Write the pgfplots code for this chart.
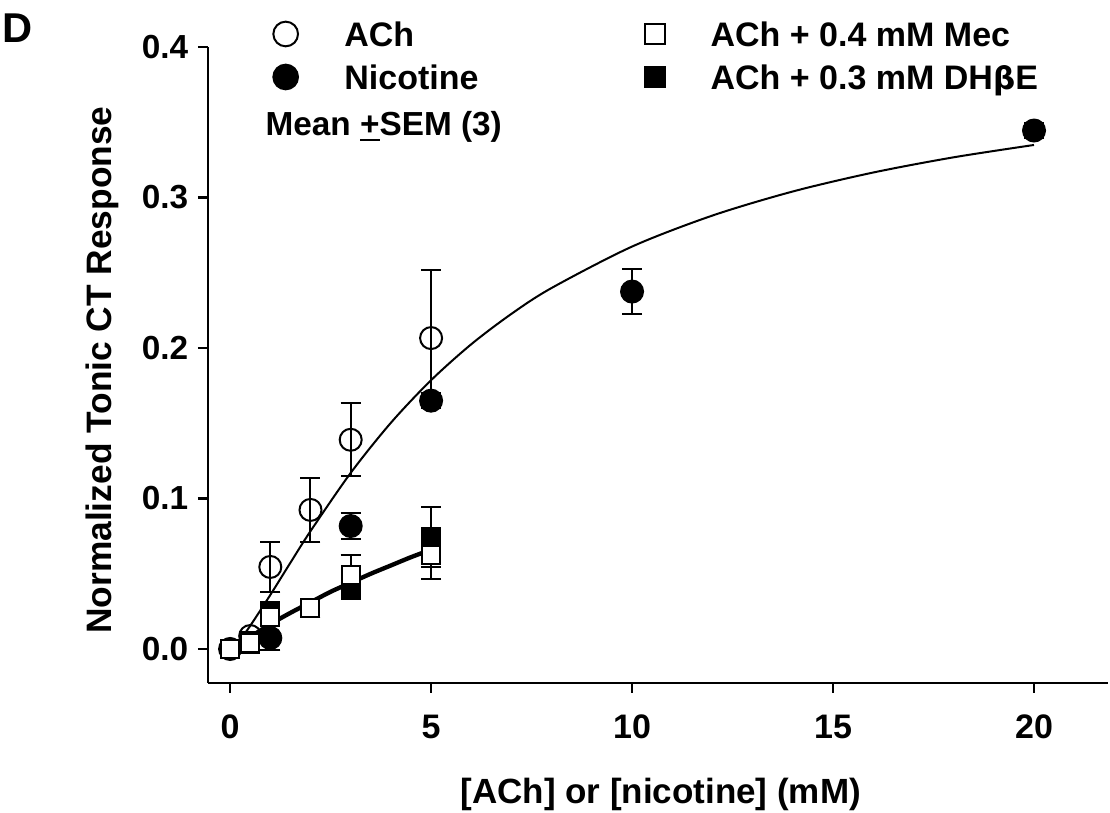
\documentclass[border=0pt]{standalone}
\usepackage{fontspec}
\setmainfont{Liberation Sans}
\usepackage{pgfplots}
\pgfplotsset{compat=1.18}
\usepackage{pgfplotstable}

\pgfplotsset{
  legA/.style={legend image code/.code={\path (-3.75pt,0pt) (17.4pt,0pt); \draw[##1] plot coordinates {(0pt,0pt)};}},
  legB/.style={legend image code/.code={\path (-3.75pt,0pt) (16.5pt,0pt); \draw[##1] plot coordinates {(0pt,0pt)};}},
}

\pgfplotstableread{
x y e
0 0 0.002
0.5 0.0086 0.003
1 0.0545 0.0165
2 0.0924 0.0215
3 0.139 0.0243
5 0.2066 0.0455
}\ach
\pgfplotstableread{
x y e
1 0.0073 0.008
3 0.0817 0.0085
5 0.165 0.005
10 0.2375 0.015
20 0.3445 0.005
}\nic
\pgfplotstableread{
x y e
0 0 0.002
0.5 0.004 0.002
1 0.0215 0.004
2 0.027 0.006
3 0.049 0.0135
5 0.0625 0.016
}\mec
\pgfplotstableread{
x y e
0 0 0.002
0.5 0.003 0.002
1 0.025 0.005
2 0.027 0.006
3 0.039 0.005
5 0.0745 0.02
}\dhbe
\pgfplotstableread{
x y
0 0
0.25 0.0064
0.5 0.0154
1 0.0359
1.5 0.0573
2 0.0783
3 0.1170
4 0.1503
5 0.1786
6 0.2025
7 0.2227
8 0.2399
10 0.2674
12 0.2880
14 0.3040
16 0.3166
18 0.3267
20 0.3349
}\fitA
\pgfplotstableread{
x y
0 0
0.5 0.008
1 0.0165
1.5 0.024
2 0.031
2.5 0.038
3 0.044
3.5 0.050
4 0.0555
4.5 0.061
5 0.066
}\fitB

\begin{document}
\begin{tikzpicture}
\useasboundingbox (-62.4pt,-39pt) rectangle (270.6pt,204.9pt);
\begin{axis}[
  at={(0,0)}, anchor=south west,
  scale only axis, width=270pt, height=190.8pt,
  xmin=-0.55, xmax=21.84, ymin=-0.0226, ymax=0.4,
  axis x line=bottom, axis y line=left,
  axis line style={-, line width=0.75pt},
  tick align=outside, major tick length=3pt,
  tick style={line width=0.75pt, black},
  xtick={0,5,10,15,20}, ytick={0,0.1,0.2,0.3,0.4},
  minor tick num=0,
  /pgf/number format/assume math mode=true,
  xticklabel style={font=\fontsize{10.2}{12}\selectfont\bfseries, yshift=-3pt},
  yticklabel style={font=\fontsize{10}{12}\selectfont\bfseries, xshift=0.6pt, /pgf/number format/.cd, fixed, fixed zerofill, precision=1},
  xlabel={[ACh] or [nicotine] (mM)},
  ylabel={Normalized Tonic CT Response},
  xlabel style={font=\fontsize{10.5}{13}\selectfont\bfseries, at={(axis description cs:0.503,-0.1897)}, anchor=base},
  ylabel style={font=\fontsize{10.6}{12}\selectfont\bfseries, at={(axis description cs:-0.1178,0.492)}, anchor=center, rotate=0},
  clip=false,
  legend columns=2,
  legend style={at={(axis description cs:0.0717,1.0477)}, anchor=north west, draw=none, fill=none,
    inner sep=0pt, outer sep=0pt,
    font=\fontsize{10.2}{12}\selectfont\bfseries, row sep=2.5pt, column sep=0pt,
    nodes={inner xsep=0pt, inner ysep=0pt, text height=8.9pt, text depth=1.5pt},
    /tikz/column 2/.style={column sep=49pt}},
  legend cell align=left,
  error bars/y dir=both, error bars/y explicit,
  error bars/error bar style={line width=0.6pt, black},
  error bars/error mark options={rotate=90, mark size=3pt, line width=0.6pt, black},
]
\addlegendimage{legA, only marks, mark=o, mark size=3.7pt, mark options={fill=white, line width=0.6pt}}
\addlegendimage{legB, only marks, mark=square, mark size=3.1pt, mark options={fill=white, line width=0.6pt}}
\addlegendimage{legA, only marks, mark=*, mark size=3.7pt, mark options={fill=black, line width=0.6pt}}
\addlegendimage{legB, only marks, mark=square*, mark size=3.1pt, mark options={fill=black, line width=0.6pt}}
\legend{ACh, ACh + 0.4 mM Mec, Nicotine, ACh + 0.3 mM DH{\fontspec{DejaVu Sans}\fontsize{9.3}{12}\selectfont β}E}
\addplot[only marks, mark=o, mark size=3.3pt, mark options={fill=white, line width=0.6pt}, forget plot] table[x=x, y=y, y error=e]{\ach};
\addplot[only marks, mark=*, mark size=3.3pt, mark options={fill=black, line width=0.6pt}, forget plot] table[x=x, y=y, y error=e]{\nic};
\addplot[only marks, mark=square*, mark size=2.7pt, mark options={fill=black, line width=0.6pt}, forget plot] table[x=x, y=y, y error=e]{\dhbe};
\addplot[only marks, mark=square*, mark size=2.7pt, mark options={fill=white, line width=0.6pt}, forget plot] table[x=x, y=y, y error=e]{\mec};
\addplot[black, line width=0.6pt, smooth, no marks, forget plot] table[x=x, y=y]{\fitA};
\addplot[black, line width=1.3pt, smooth, no marks, forget plot] table[x=x, y=y]{\fitB};
\end{axis}
\node[font=\fontsize{12.5}{14}\selectfont\bfseries, anchor=center] at (-57pt,196.5pt) {D};
\node[font=\fontsize{10}{12}\selectfont\bfseries, anchor=base west, inner sep=0pt] at (17.1pt,164.3pt) {Mean \underline{+}SEM (3)};
\end{tikzpicture}
\end{document}
